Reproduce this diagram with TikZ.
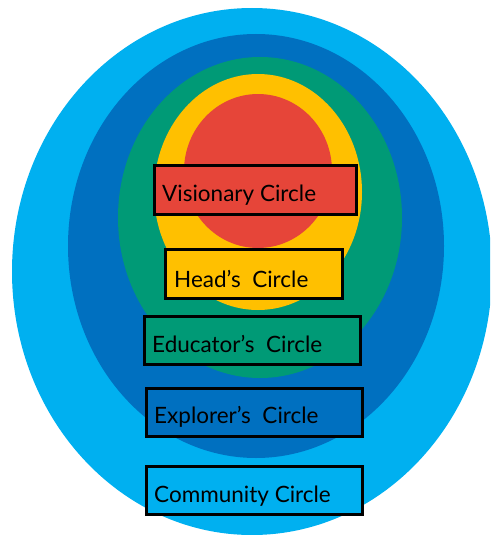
\documentclass[tikz,border=0pt]{standalone}
\usepackage{fontspec}
\setmainfont{Lato}
\definecolor{cLight}{HTML}{00B0F0}
\definecolor{cDark}{HTML}{0070C0}
\definecolor{cGreen}{HTML}{009A76}
\definecolor{cYellow}{HTML}{FFC000}
\definecolor{cRed}{HTML}{E64539}
\begin{document}
\begin{tikzpicture}[x=1pt,y=-1pt,
  ring/.style={draw=none},
  labelbox/.style={draw=black, line width=2.5pt, rectangle, anchor=north west, inner sep=0pt},
  lbl/.style={anchor=base west, inner sep=0pt, font=\fontsize{22.5}{26}\selectfont}]
\useasboundingbox (0,0) rectangle (490,535);
\clip (0,0) rectangle (490,535);
\fill[cLight] (252,271.5) ellipse [x radius=240, y radius=263.5];
\fill[cDark] (256,246) ellipse [x radius=188, y radius=212];
\fill[cGreen] (260,217.5) ellipse [x radius=142, y radius=160.5];
\fill[cYellow] (258,192) ellipse [x radius=104, y radius=118];
\fill[cRed] (258,171) ellipse [x radius=74, y radius=77];
\node[labelbox, fill=cRed, minimum width=202pt, minimum height=49pt] (vis) at (153,164) {};
\node[labelbox, fill=cYellow, minimum width=177pt, minimum height=49pt] (head) at (164,248) {};
\node[labelbox, fill=cGreen, minimum width=216pt, minimum height=48pt] (edu) at (143,315) {};
\node[labelbox, fill=cDark, minimum width=216pt, minimum height=48pt] (exp) at (145,387) {};
\node[labelbox, fill=cLight, minimum width=216pt, minimum height=48pt] (com) at (145,465) {};
\node[lbl] (visT) at (162,201) {Visionary Circle};
\node[lbl] (headT) at (174,287) {Head’s\ \ Circle};
\node[lbl] (eduT) at (152,352) {Educator’s\ \ Circle};
\node[lbl] (expT) at (154,423) {Explorer’s\ \ Circle};
\node[lbl] (comT) at (154,502) {Community Circle};
\end{tikzpicture}
\end{document}
